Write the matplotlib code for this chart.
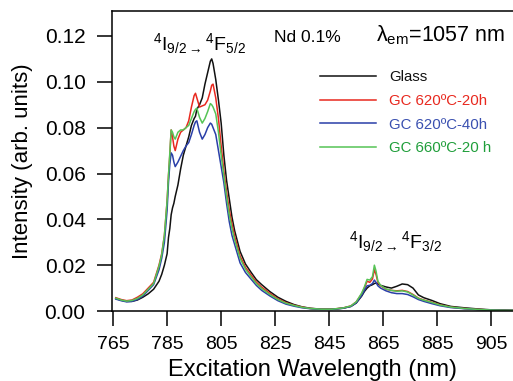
import numpy as np
import matplotlib
matplotlib.use('Agg')
import matplotlib.pyplot as plt

plt.rcParams['font.family'] = ['Liberation Sans', 'DejaVu Sans']
plt.rcParams['mathtext.default'] = 'regular'

# excitation wavelength grid (nm)
wl = [766, 768, 770, 772, 774, 776, 778, 780, 782, 783,
      784, 785, 785.5, 786, 786.5, 787, 787.5, 788, 789, 790,
      791, 792, 793, 794, 795, 795.5, 796, 797, 798, 799,
      800, 801, 801.5, 802, 803, 804, 805, 806, 807, 808,
      809, 810, 812, 814, 816, 818, 820, 823, 826, 829,
      832, 835, 838, 842, 846, 850, 853, 855, 857, 858,
      859, 860, 861, 861.7, 862.3, 863, 864, 866, 868, 870,
      872, 874, 876, 878, 880, 883, 886, 890, 895, 900,
      905, 910, 913]

glass = [.0055, .0047, .0042, .0042, .0048, .0060, .0075, .0095, .0130, .0160,
         .0200, .0250, .0320, .0360, .0420, .0450, .0470, .0500, .0550, .0620,
         .0680, .0720, .0760, .0810, .0840, .0850, .0880, .0900, .0930, .0990,
         .1040, .1090, .1100, .1080, .1010, .0920, .0820, .0680, .0570, .0490,
         .0410, .0350, .0260, .0205, .0170, .0137, .0115, .0085, .0060, .0042,
         .0028, .0018, .0012, .0008, .0008, .0012, .0020, .0035, .0065, .0085,
         .0100, .0110, .0115, .0120, .0122, .0118, .0112, .0105, .0100, .0108,
         .0118, .0115, .0100, .0070, .0058, .0046, .0032, .0020, .0014, .0009,
         .0005, .0004, .0003]

gc620_20 = [.0058, .0050, .0045, .0048, .0060, .0075, .0100, .0125, .0200, .0250,
            .0330, .0480, .0590, .0680, .0790, .0760, .0720, .0700, .0750, .0780,
            .0790, .0800, .0830, .0890, .0940, .0950, .0930, .0890, .0895, .0900,
            .0920, .0960, .0985, .0990, .0930, .0840, .0720, .0610, .0520, .0440,
            .0380, .0325, .0240, .0190, .0158, .0126, .0104, .0077, .0053, .0036,
            .0025, .0017, .0011, .0008, .0008, .0013, .0022, .0040, .0075, .0100,
            .0130, .0125, .0140, .0180, .0160, .0125, .0110, .0095, .0090, .0088,
            .0090, .0085, .0072, .0056, .0048, .0038, .0027, .0017, .0011, .0007,
            .0004, .0003, .0003]

gc620_40 = [.0052, .0045, .0040, .0042, .0050, .0065, .0090, .0115, .0180, .0230,
            .0300, .0440, .0560, .0640, .0690, .0680, .0650, .0630, .0650, .0675,
            .0700, .0720, .0735, .0770, .0810, .0825, .0830, .0780, .0750, .0770,
            .0800, .0820, .0815, .0800, .0770, .0700, .0630, .0560, .0470, .0390,
            .0330, .0290, .0210, .0168, .0140, .0112, .0090, .0066, .0045, .0030,
            .0021, .0014, .0010, .0007, .0007, .0012, .0020, .0036, .0068, .0090,
            .0110, .0112, .0120, .0135, .0125, .0110, .0100, .0088, .0080, .0076,
            .0076, .0072, .0062, .0050, .0042, .0032, .0023, .0015, .0010, .0006,
            .0004, .0003, .0003]

gc660_20 = [.0056, .0048, .0043, .0046, .0055, .0070, .0095, .0120, .0195, .0245,
            .0330, .0480, .0590, .0690, .0790, .0780, .0760, .0750, .0780, .0790,
            .0790, .0800, .0810, .0840, .0870, .0880, .0885, .0845, .0820, .0840,
            .0870, .0905, .0900, .0890, .0860, .0780, .0680, .0590, .0500, .0420,
            .0360, .0310, .0230, .0182, .0150, .0120, .0098, .0072, .0050, .0034,
            .0024, .0016, .0011, .0008, .0008, .0013, .0022, .0040, .0078, .0105,
            .0138, .0135, .0150, .0200, .0175, .0130, .0112, .0096, .0090, .0086,
            .0088, .0083, .0070, .0055, .0047, .0037, .0026, .0017, .0011, .0007,
            .0004, .0003, .0003]

labels = ['Glass', 'GC 620ºC-20h', 'GC 620ºC-40h', 'GC 660ºC-20 h']
line_colors = ['#111111', '#e8281e', '#2a3fa8', '#56c456']
text_colors = ['#111111', '#e8281e', '#3a50b0', '#1f9e3a']

fig = plt.figure(figsize=(5.13, 3.81), dpi=100)
ax = fig.add_axes([0.2183, 0.1837, 0.7817, 0.7874])

for y, lab, c in zip([glass, gc620_20, gc620_40, gc660_20], labels, line_colors):
    ax.plot(wl, y, color=c, lw=1.1, label=lab)

ax.set_xlim(764.6, 913)
ax.set_ylim(0, 0.1309)
ax.set_xticks(np.arange(765, 906, 20))
ax.set_yticks(np.arange(0, 0.121, 0.02))
ax.yaxis.set_major_formatter(matplotlib.ticker.FormatStrFormatter('%.2f'))
ax.tick_params(direction='out', length=11, width=1.1)
ax.tick_params(axis='x', labelsize=14, pad=7)
ax.tick_params(axis='y', labelsize=15, pad=8)
ax.tick_params(top=False, right=False)
ax.spines['right'].set_visible(False)
for s in ['left', 'bottom', 'top']:
    ax.spines[s].set_linewidth(1.1)

ax.set_xlabel('Excitation Wavelength (nm)', fontsize=17, labelpad=4)
ax.set_ylabel('Intensity (arb. units)', fontsize=16, labelpad=8)

ax.text(797, 0.1139, r'$^{4}I_{9/2\rightarrow}{}^{4}F_{5/2}$', fontsize=14, ha='center', va='baseline')
ax.text(869.5, 0.0273, r'$^{4}I_{9/2\rightarrow}{}^{4}F_{3/2}$', fontsize=14, ha='center', va='baseline')
ax.text(837, 0.1175, 'Nd 0.1%', fontsize=12.5, ha='center', va='baseline')
ax.text(886, 0.1175, r'$\lambda_{em}$=1057 nm', fontsize=15.5, ha='center', va='baseline')

leg = ax.legend(loc='upper left', bbox_to_anchor=(0.486, 0.847), frameon=False,
                fontsize=10.8, handlelength=3.7, handletextpad=0.9, labelspacing=0.64)
for t, c in zip(leg.get_texts(), text_colors):
    t.set_color(c)

fig.savefig('out.png', dpi=100)
